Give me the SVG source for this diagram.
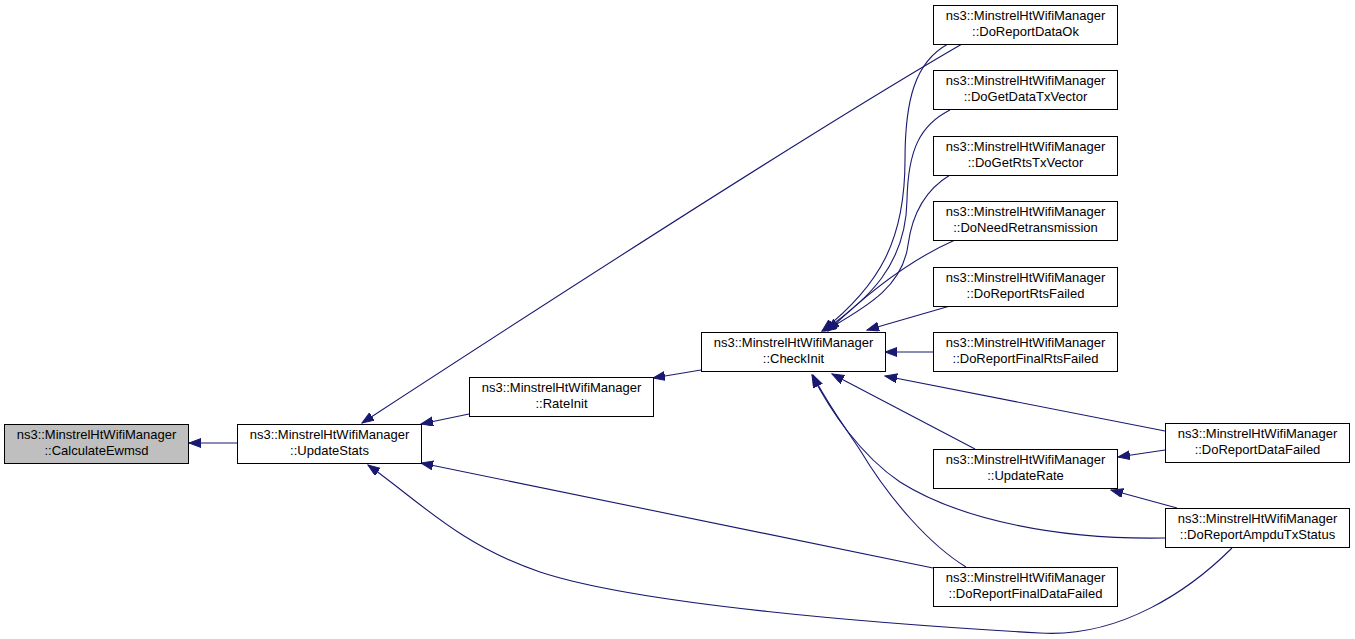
<svg xmlns="http://www.w3.org/2000/svg" width="1355" height="639" viewBox="0 0 1355 639">
<defs>
<style>
.n rect{fill:#fff;stroke:#000;stroke-width:1}
.n text{font-family:"Liberation Sans",Arial,sans-serif;font-size:13px;text-anchor:middle;fill:#000}
.e path{fill:none;stroke:#191970;stroke-width:1.1;marker-end:url(#ah)}
</style>
<marker id="ah" markerUnits="userSpaceOnUse" markerWidth="13" markerHeight="10" refX="12" refY="4.5" orient="auto">
<path d="M0,0 L12,4.5 L0,9 z" fill="#191970" stroke="#191970" stroke-width="1"/>
</marker>
</defs>
<rect width="1355" height="639" fill="#fff"/>
<g class="e" id="edges">
<path d="M237,443 L189,443"/>
<path d="M962,44 C810,132 520,320 362,423"/>
<path d="M469,414 L421,424"/>
<path d="M933,568 L421,463"/>
<path d="M1232,548 C1190,590 1120,638 1040,633 C880,624 640,605 540,572 C460,545 420,502 368,465"/>
<path d="M701,370 L653,378"/>
<path d="M948,44 C915,62 905,100 905,160 C905,240 880,285 822,331"/>
<path d="M950,110 C920,125 908,150 907,200 C906,265 868,300 823,331"/>
<path d="M950,175 C925,190 912,215 908,245 C902,290 860,310 825,331"/>
<path d="M955,240 C905,262 860,300 828,331"/>
<path d="M950,306 L867,330"/>
<path d="M933,352 L885,352"/>
<path d="M1165,431 L885,376"/>
<path d="M975,449 L832,374"/>
<path d="M1165,538 C1060,540 960,520 900,482 C860,455 830,410 812,375"/>
<path d="M966,567 C930,545 890,500 860,450 C840,420 825,400 813,375"/>
<path d="M1165,450 L1118,457"/>
<path d="M1177,508 L1111,490"/>
</g>
<g class="n" id="calculateEwmsd"><rect x="4.5" y="424.5" width="184" height="39" style="fill:#bfbfbf"/><text x="96.5" y="438.5">ns3::MinstrelHtWifiManager</text><text x="96.5" y="454.5">::CalculateEwmsd</text></g>
<g class="n" id="updateStats"><rect x="237.5" y="424.5" width="184" height="39"/><text x="329.5" y="438.5">ns3::MinstrelHtWifiManager</text><text x="329.5" y="454.5">::UpdateStats</text></g>
<g class="n" id="rateInit"><rect x="469.5" y="377.5" width="184" height="39"/><text x="561.5" y="391.5">ns3::MinstrelHtWifiManager</text><text x="561.5" y="407.5">::RateInit</text></g>
<g class="n" id="checkInit"><rect x="701.5" y="332.5" width="184" height="39"/><text x="793.5" y="346.5">ns3::MinstrelHtWifiManager</text><text x="793.5" y="362.5">::CheckInit</text></g>
<g class="n" id="doReportDataOk"><rect x="933.5" y="5.5" width="184" height="39"/><text x="1025.5" y="19.5">ns3::MinstrelHtWifiManager</text><text x="1025.5" y="35.5">::DoReportDataOk</text></g>
<g class="n" id="doGetDataTxVector"><rect x="933.5" y="70.5" width="184" height="39"/><text x="1025.5" y="84.5">ns3::MinstrelHtWifiManager</text><text x="1025.5" y="100.5">::DoGetDataTxVector</text></g>
<g class="n" id="doGetRtsTxVector"><rect x="933.5" y="136.5" width="184" height="39"/><text x="1025.5" y="150.5">ns3::MinstrelHtWifiManager</text><text x="1025.5" y="166.5">::DoGetRtsTxVector</text></g>
<g class="n" id="doNeedRetransmission"><rect x="933.5" y="201.5" width="184" height="39"/><text x="1025.5" y="215.5">ns3::MinstrelHtWifiManager</text><text x="1025.5" y="231.5">::DoNeedRetransmission</text></g>
<g class="n" id="doReportRtsFailed"><rect x="933.5" y="267.5" width="184" height="39"/><text x="1025.5" y="281.5">ns3::MinstrelHtWifiManager</text><text x="1025.5" y="297.5">::DoReportRtsFailed</text></g>
<g class="n" id="doReportFinalRtsFailed"><rect x="933.5" y="332.5" width="184" height="39"/><text x="1025.5" y="346.5">ns3::MinstrelHtWifiManager</text><text x="1025.5" y="362.5">::DoReportFinalRtsFailed</text></g>
<g class="n" id="updateRate"><rect x="933.5" y="449.5" width="184" height="39"/><text x="1025.5" y="463.5">ns3::MinstrelHtWifiManager</text><text x="1025.5" y="479.5">::UpdateRate</text></g>
<g class="n" id="doReportFinalDataFailed"><rect x="933.5" y="567.5" width="184" height="39"/><text x="1025.5" y="581.5">ns3::MinstrelHtWifiManager</text><text x="1025.5" y="597.5">::DoReportFinalDataFailed</text></g>
<g class="n" id="doReportDataFailed"><rect x="1165.5" y="423.5" width="184" height="39"/><text x="1257.5" y="437.5">ns3::MinstrelHtWifiManager</text><text x="1257.5" y="453.5">::DoReportDataFailed</text></g>
<g class="n" id="doReportAmpduTxStatus"><rect x="1165.5" y="508.5" width="184" height="39"/><text x="1257.5" y="522.5">ns3::MinstrelHtWifiManager</text><text x="1257.5" y="538.5">::DoReportAmpduTxStatus</text></g>
</svg>
